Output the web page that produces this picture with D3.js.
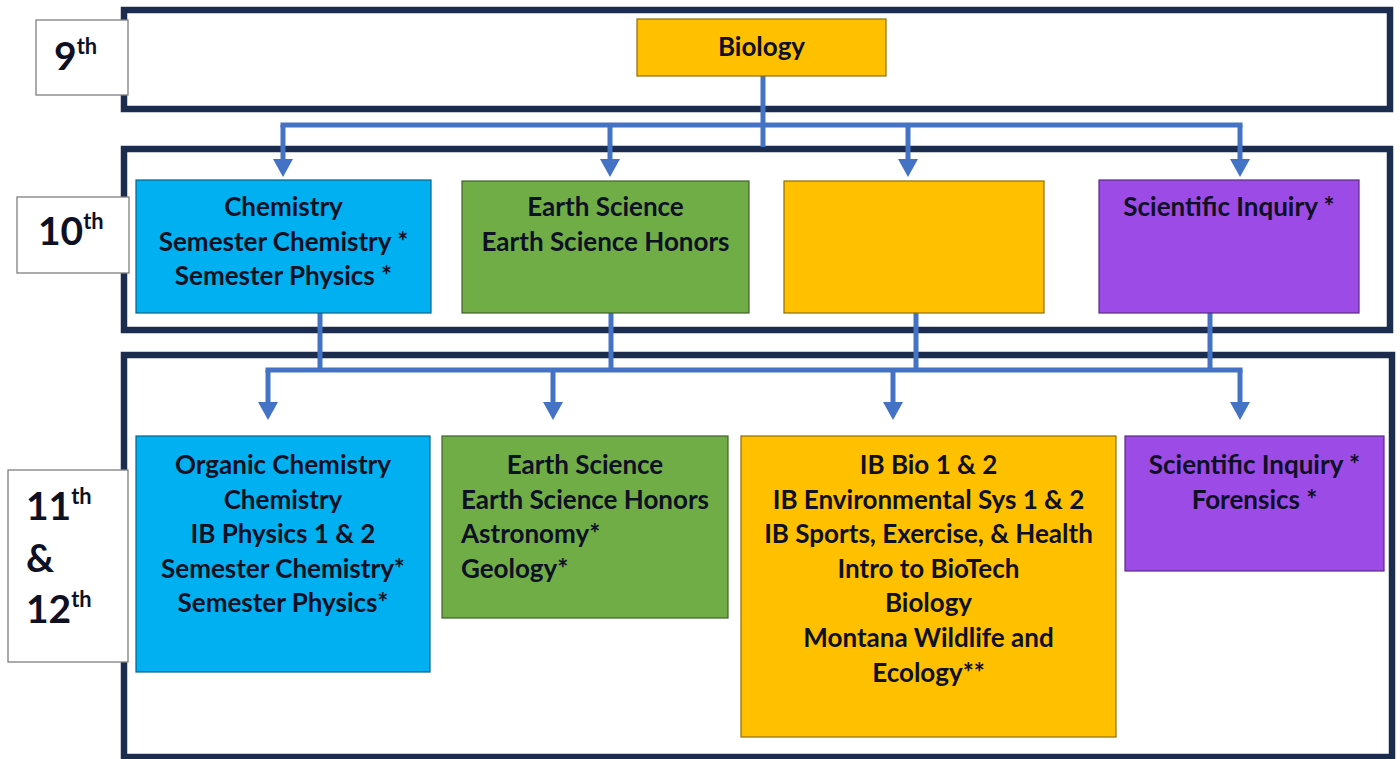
<!DOCTYPE html>
<html>
<head>
<meta charset="utf-8">
<script src="https://cdn.jsdelivr.net/npm/d3@7"></script>
<style>
  html, body { margin: 0; padding: 0; background: #fff; }
  svg { display: block; }
  text { font-family: Lato, "Open Sans", sans-serif; font-weight: 700; fill: #0e1024; }
</style>
</head>
<body>
<svg id="chart" width="1400" height="759"></svg>
<script>
"use strict";

// Grade labels: [number, superscript] for each line
const grade9Label = [["9", "th"]];
const grade10Label = [["10", "th"]];
const grade11Label = [["11", "th"], ["&", ""], ["12", "th"]];

// Tracks (one colour per track)
const tracks = ["chemistry", "earth", "biology", "inquiry"];

// Courses offered per grade, one list per track
const grade9Courses = [["Biology"]];
const grade9Tracks = ["biology"];

const grade10Courses = [
  ["Chemistry", "Semester Chemistry *", "Semester Physics *"],
  ["Earth Science", "Earth Science Honors"],
  [],
  ["Scientific Inquiry *"]
];

const grade11Courses = [
  ["Organic Chemistry", "Chemistry", "IB Physics 1 & 2", "Semester Chemistry*", "Semester Physics*"],
  ["Earth Science", "Earth Science Honors", "Astronomy*", "Geology*"],
  ["IB Bio 1 & 2", "IB Environmental Sys 1 & 2", "IB Sports, Exercise, & Health", "Intro to BioTech", "Biology", "Montana Wildlife and", "Ecology**"],
  ["Scientific Inquiry *", "Forensics *"]
];

// ---- layout & style ----
const palette = ["#00B0F0", "#70AD47", "#FFC000", "#9D4BE7"];
const color = d3.scaleOrdinal(tracks, palette);

const frameColor = "#1c2c4f";
const linkColor = "#4472C4";
const fontSize = 26;
const lineHeight = 34.6;

const frames = [
  {x0: 124, y0: 10, x1: 1390, y1: 109},
  {x0: 124, y0: 149, x1: 1390, y1: 330},
  {x0: 124, y0: 355, x1: 1392, y1: 757}
];

const labelBoxes = [
  {x0: 36, y0: 20, x1: 128, y1: 95, tx: 54, ty: 70, size: 39},
  {x0: 17, y0: 197, x1: 129, y1: 273, tx: 38, ty: 245, size: 39},
  {x0: 8, y0: 470, x1: 128, y1: 662, tx: 26, ty: 520, size: 39}
];

const rowBoxes = [
  [{x0: 637, y0: 19, x1: 886, y1: 76, ty: 56}],
  [
    {x0: 136, y0: 180, x1: 431, y1: 313, ty: 216},
    {x0: 462, y0: 181, x1: 749, y1: 313, ty: 216},
    {x0: 784, y0: 181, x1: 1044, y1: 313, ty: 216},
    {x0: 1099, y0: 180, x1: 1359, y1: 313, ty: 216}
  ],
  [
    {x0: 136, y0: 436, x1: 430, y1: 672, ty: 474},
    {x0: 442, y0: 436, x1: 728, y1: 618, ty: 474, leftFrom: 2, leftX: 461},
    {x0: 741, y0: 436, x1: 1116, y1: 737, ty: 474},
    {x0: 1125, y0: 436, x1: 1384, y1: 571, ty: 474}
  ]
];

// connectors between grade rows
const links = [
  {sources: [763], srcY0: 76, srcY1: 147, busY: 125, targets: [283, 610, 908, 1240], tipY: 177},
  {sources: [320, 611, 916, 1210], srcY0: 313, srcY1: 370, busY: 370, targets: [268, 553, 893, 1240], tipY: 420}
];

const svg = d3.select("#chart");

/**
 * Draws the dark frame around one grade band.
 */
function drawFrames(g) {
  g.selectAll("rect.frame")
    .data(frames)
    .enter()
    .append("rect")
    .classed("frame", true)
    .attr("x", d => d.x0)
    .attr("y", d => d.y0)
    .attr("width", d => d.x1 - d.x0)
    .attr("height", d => d.y1 - d.y0)
    .attr("fill", "none")
    .attr("stroke", frameColor)
    .attr("stroke-width", 6.5);
}

/**
 * Draws the connectors (bus line + arrows) between two grade rows.
 */
function drawLinks(g) {
  const head = 18, half = 10;
  links.forEach(l => {
    const lg = g.append("g").attr("fill", "none").attr("stroke", linkColor).attr("stroke-width", 5);

    lg.selectAll("line.src")
      .data(l.sources)
      .enter()
      .append("line")
      .attr("x1", d => d).attr("x2", d => d)
      .attr("y1", l.srcY0).attr("y2", l.srcY1);

    const xs = l.sources.concat(l.targets);
    lg.append("line")
      .attr("x1", d3.min(xs) - 2.5).attr("x2", d3.max(xs) + 2.5)
      .attr("y1", l.busY).attr("y2", l.busY);

    lg.selectAll("line.tgt")
      .data(l.targets)
      .enter()
      .append("line")
      .attr("x1", d => d).attr("x2", d => d)
      .attr("y1", l.busY).attr("y2", l.tipY - head + 1);

    g.selectAll(null)
      .data(l.targets)
      .enter()
      .append("path")
      .attr("fill", linkColor)
      .attr("d", d => `M${d - half},${l.tipY - head}L${d + half},${l.tipY - head}L${d},${l.tipY}Z`);
  });
}

/**
 * Draws one row of course boxes.
 */
function drawRow(g, boxes, courses, trackNames) {
  const box = g.selectAll("g.box")
    .data(boxes.map((b, i) => ({b: b, lines: courses[i], track: trackNames[i]})))
    .enter()
    .append("g")
    .classed("box", true);

  box.append("rect")
    .attr("x", d => d.b.x0)
    .attr("y", d => d.b.y0)
    .attr("width", d => d.b.x1 - d.b.x0)
    .attr("height", d => d.b.y1 - d.b.y0)
    .attr("fill", d => color(d.track))
    .attr("stroke", d => d3.color(color(d.track)).darker(1.6))
    .attr("stroke-width", 1.2);

  // left aligned lines only happen in one box, otherwise centered
  let isLeft = (d, i) => d.b.leftFrom !== undefined && i >= d.b.leftFrom;

  box.each(function(d) {
    const cx = (d.b.x0 + d.b.x1) / 2;
    d3.select(this).selectAll("text")
      .data(d.lines)
      .enter()
      .append("text")
      .attr("font-size", fontSize)
      .attr("x", (t, i) => isLeft(d, i) ? d.b.leftX : cx)
      .attr("text-anchor", (t, i) => isLeft(d, i) ? "start" : "middle")
      .attr("y", (t, i) => d.b.ty + i * lineHeight)
      .text(t => t);
  });
}

/**
 * Draws the white grade label boxes on the left.
 */
function drawLabels(g) {
  const labels = [grade9Label, grade10Label, grade11Label];
  labelBoxes.forEach((b, i) => {
    g.append("rect")
      .attr("x", b.x0).attr("y", b.y0)
      .attr("width", b.x1 - b.x0).attr("height", b.y1 - b.y0)
      .attr("fill", "#fff")
      .attr("stroke", "#7f7f7f")
      .attr("stroke-width", 1.3);

    labels[i].forEach((line, j) => {
      const t = g.append("text")
        .attr("x", b.tx)
        .attr("y", b.ty + j * 51.5)
        .attr("font-size", b.size);
      t.append("tspan").text(line[0]);
      if (line[1]) {
        t.append("tspan")
          .attr("font-size", b.size * 0.56)
          .attr("dy", -b.size * 0.42)
          .text(line[1]);
      }
    });
  });
}

drawFrames(svg.append("g"));
drawLinks(svg.append("g"));
drawRow(svg.append("g"), rowBoxes[0], grade9Courses, grade9Tracks);
drawRow(svg.append("g"), rowBoxes[1], grade10Courses, tracks);
drawRow(svg.append("g"), rowBoxes[2], grade11Courses, tracks);
drawLabels(svg.append("g"));
</script>
</body>
</html>
